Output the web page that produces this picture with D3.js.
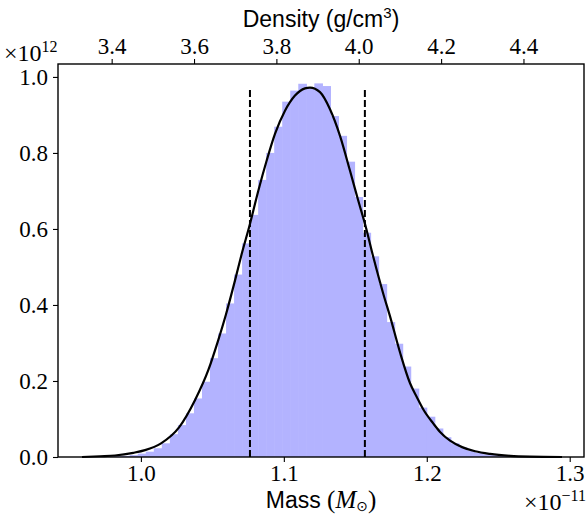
<!DOCTYPE html>
<html>
<head>
<meta charset="utf-8">
<script src="https://cdn.jsdelivr.net/npm/d3@7"></script>
<style>
  html, body { margin: 0; padding: 0; background: #fff; }
  svg { display: block; }
</style>
</head>
<body>
<svg id="chart" width="587" height="518"></svg>
<script>
// ---------------- data (mass in 1e-11 Msun, density in 1e12 per Msun) ----------------
const binStart = 0.9585;
const binWidth = 0.005615;
const histDensity = [
  0.0002, 0.0003, 0.0005, 0.001, 0.002, 0.003, 0.005, 0.009, 0.014, 0.023,
  0.036, 0.060, 0.084, 0.115, 0.154, 0.198, 0.260, 0.325, 0.404, 0.480,
  0.562, 0.637, 0.729, 0.800, 0.869, 0.935, 0.964, 0.982, 0.970, 0.983,
  0.976, 0.897, 0.845, 0.777, 0.684, 0.590, 0.528, 0.455, 0.355, 0.298,
  0.238, 0.180, 0.130, 0.106, 0.075, 0.052, 0.036, 0.025, 0.017, 0.011,
  0.007, 0.005, 0.003, 0.002, 0.0015, 0.001, 0.0007, 0.0004, 0.0002, 0.0001
];
const curveMass = [
  0.9588, 0.9714, 0.9819, 0.9947, 1.0029, 1.0141, 1.0267, 1.0379, 1.0472, 1.0539,
  1.0595, 1.0658, 1.0705, 1.0763, 1.0821, 1.0880, 1.0938, 1.1008, 1.1078, 1.1148,
  1.1183, 1.1253, 1.1323, 1.1393, 1.1463, 1.1521, 1.1568, 1.1626, 1.1696, 1.1743,
  1.1813, 1.1883, 1.1930, 1.1976, 1.2046, 1.2093, 1.2163, 1.2247, 1.2338, 1.2443,
  1.2583, 1.2722, 1.2946
];
const curveDensity = [
  0.000, 0.002, 0.004, 0.011, 0.018, 0.036, 0.078, 0.150, 0.229, 0.305,
  0.375, 0.464, 0.534, 0.613, 0.700, 0.780, 0.850, 0.911, 0.951, 0.970,
  0.972, 0.960, 0.915, 0.845, 0.753, 0.674, 0.613, 0.526, 0.429, 0.370,
  0.275, 0.194, 0.158, 0.125, 0.088, 0.066, 0.043, 0.026, 0.015, 0.008,
  0.003, 0.001, 0.000
];
const dashedMass = [1.0763, 1.1567];
const dashedHeight = 0.971;
const massTicks = [1.0, 1.1, 1.2, 1.3];
const yTicks = [0.0, 0.2, 0.4, 0.6, 0.8, 1.0];
const densityTicks = [3.4, 3.6, 3.8, 4.0, 4.2, 4.4];
const densityPerMass = 3.471;   // g/cm^3 per 1e-11 Msun

// ---------------- layout ----------------
const L = 58, R = 584, T = 64, B = 457;
const serif = "'Liberation Serif', 'DejaVu Serif', serif";
const sans = "'Liberation Sans', Arial, sans-serif";
const svg = d3.select('#chart');

const x = d3.scaleLinear().domain([0.942, 1.310]).range([L, R]);
const y = d3.scaleLinear().domain([0, 1.034]).range([B, T]);
const xTop = d3.scaleLinear()
  .domain([0.942 * densityPerMass, 1.310 * densityPerMass]).range([L, R]);

const bins = histDensity.map((v, i) => ({
  x0: binStart + i * binWidth,
  x1: binStart + (i + 1) * binWidth,
  v
}));

// histogram
svg.append('g').selectAll('rect').data(bins).join('rect')
  .attr('x', d => x(d.x0))
  .attr('width', d => x(d.x1) - x(d.x0) + 0.6)
  .attr('y', d => y(d.v))
  .attr('height', d => y(0) - y(d.v))
  .attr('fill', '#b3b3ff');

// curve
const pts = curveMass.map((m, i) => [m, curveDensity[i]]);
svg.append('path').datum(pts)
  .attr('d', d3.line().x(d => x(d[0])).y(d => y(d[1])).curve(d3.curveMonotoneX))
  .attr('fill', 'none').attr('stroke', '#000').attr('stroke-width', 2.2);

// dashed lines
svg.append('g').selectAll('line').data(dashedMass).join('line')
  .attr('x1', d => x(d)).attr('x2', d => x(d))
  .attr('y1', y(0)).attr('y2', y(dashedHeight))
  .attr('stroke', '#000').attr('stroke-width', 2).attr('stroke-dasharray', '7,3');

// axes
function styleAxis(g) {
  g.select('.domain').remove();
  g.selectAll('.tick line').attr('stroke', '#000').attr('stroke-width', 1.1);
  g.selectAll('.tick text').attr('font-family', serif).attr('font-size', 23).attr('fill', '#000');
}
svg.append('g').attr('transform', `translate(0,${B})`)
  .call(d3.axisBottom(x).tickValues(massTicks).tickFormat(d3.format('.1f')).tickSize(5).tickPadding(3))
  .call(styleAxis);
svg.append('g').attr('transform', `translate(${L},0)`)
  .call(d3.axisLeft(y).tickValues(yTicks).tickFormat(d3.format('.1f')).tickSize(5).tickPadding(5))
  .call(styleAxis);
svg.append('g').attr('transform', `translate(0,${T})`)
  .call(d3.axisTop(xTop).tickValues(densityTicks).tickFormat(d3.format('.1f')).tickSize(5).tickPadding(5))
  .call(styleAxis);

// frame
svg.append('rect').attr('x', L).attr('y', T).attr('width', R - L).attr('height', B - T)
  .attr('fill', 'none').attr('stroke', '#000').attr('stroke-width', 1.4);

// labels
const topLab = svg.append('text').attr('x', (L + R) / 2).attr('y', 27)
  .attr('text-anchor', 'middle').attr('font-family', sans).attr('font-size', 23);
topLab.append('tspan').text('Density (g/cm');
topLab.append('tspan').text('3').attr('font-size', 15).attr('dy', -9);
topLab.append('tspan').text(')').attr('dy', 9);

const botLab = svg.append('text').attr('x', (L + R) / 2).attr('y', 508)
  .attr('text-anchor', 'middle').attr('font-family', sans).attr('font-size', 23);
botLab.append('tspan').text('Mass ');
botLab.append('tspan').text('(').attr('font-family', serif).attr('font-size', 25);
botLab.append('tspan').text('M').attr('font-family', serif).attr('font-style', 'italic').attr('font-size', 25);
botLab.append('tspan').text('⊙').attr('font-family', "'DejaVu Sans', sans-serif").attr('font-size', 14).attr('dy', 3);
botLab.append('tspan').text(')').attr('font-family', serif).attr('font-size', 25).attr('dy', -3);

const mul1 = svg.append('text').attr('x', 4).attr('y', 61)
  .attr('font-family', serif).attr('font-size', 24);
mul1.append('tspan').text('×10');
mul1.append('tspan').text('12').attr('font-size', 16).attr('dy', -9);

const mul2 = svg.append('text').attr('x', 586).attr('y', 510)
  .attr('text-anchor', 'end').attr('font-family', serif).attr('font-size', 24);
mul2.append('tspan').text('×10');
mul2.append('tspan').text('−11').attr('font-size', 16).attr('dy', -9);
</script>
</body>
</html>
